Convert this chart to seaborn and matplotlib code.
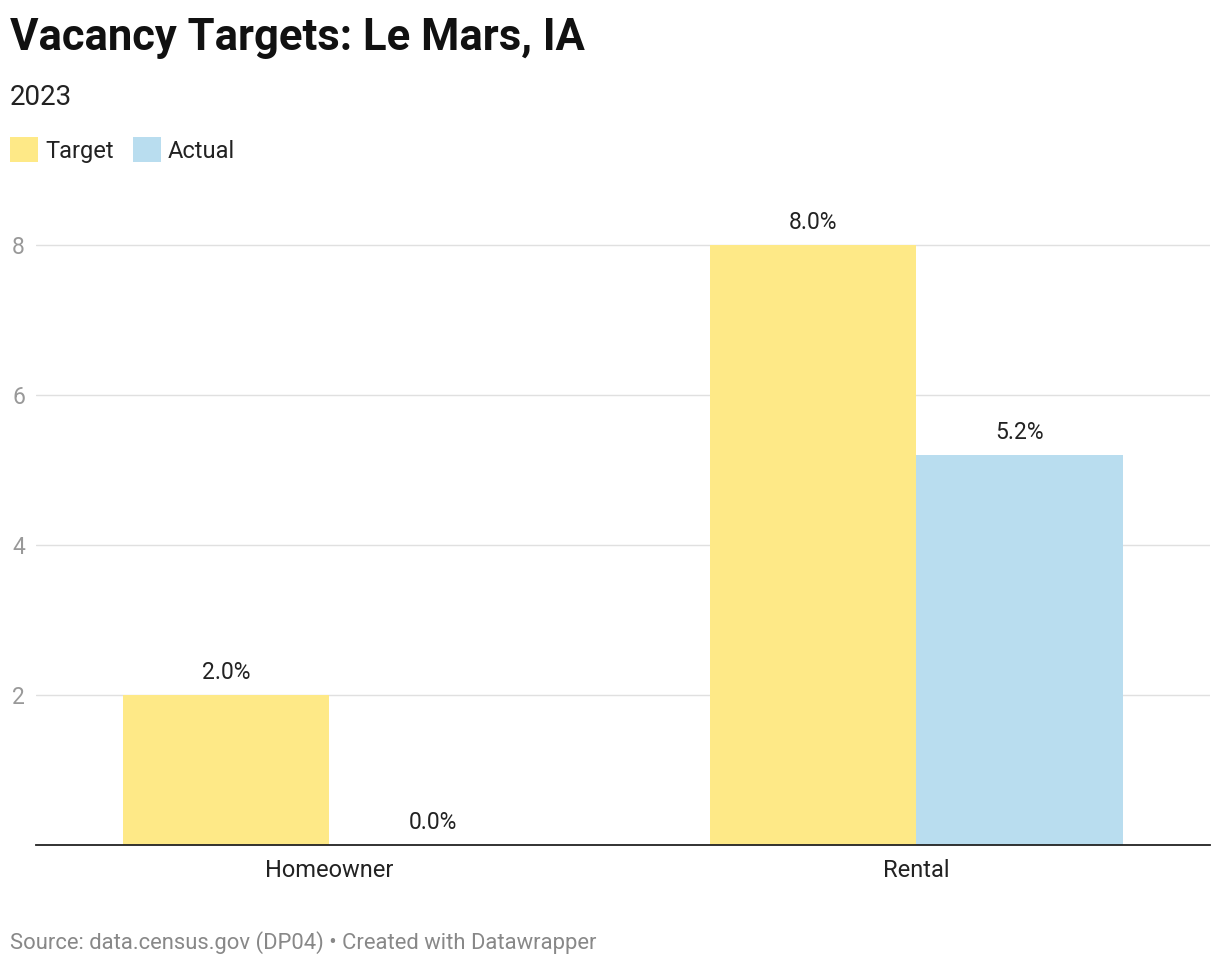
import matplotlib
matplotlib.use("Agg")
import matplotlib.pyplot as plt
import seaborn as sns
import pandas as pd

categories = ["Homeowner", "Rental"]
series = ["Target", "Actual"]
target_values = [2.0, 8.0]
actual_values = [0.0, 5.2]
y_ticks = [2, 4, 6, 8]

colors = {"Target": "#FEE987", "Actual": "#B9DDEF"}

df = pd.DataFrame({
    "category": categories * 2,
    "series": ["Target"] * len(categories) + ["Actual"] * len(categories),
    "value": target_values + actual_values,
})

sns.set_theme(style="white")
plt.rcParams["font.family"] = ["Roboto", "DejaVu Sans"]

fig = plt.figure(figsize=(12.2, 9.68), dpi=100)
ax = fig.add_axes([0.0295, 0.1271, 0.9623, 0.658])

sns.barplot(data=df, x="category", y="value", hue="series", hue_order=series,
            palette=colors, width=0.703, saturation=1, linewidth=0, ax=ax, legend=True)

for c in ax.containers:
    ax.bar_label(c, fmt="%.1f%%", padding=8, fontsize=16.5, color="#222222")

ax.set_xlim(-0.5, 1.5)
ax.set_ylim(0, 8.5)
ax.set_yticks(y_ticks)
ax.set_yticklabels([str(t) for t in y_ticks])
ax.grid(axis="y", color="#e0e0e0", linewidth=1)
ax.set_axisbelow(True)
for s in ["top", "right", "left"]:
    ax.spines[s].set_visible(False)
ax.spines["bottom"].set_color("#222222")
ax.spines["bottom"].set_linewidth(1.3)
ax.tick_params(axis="y", length=0, labelsize=16.5, labelcolor="#999999", pad=8)
ax.tick_params(axis="x", length=0, labelsize=17, labelcolor="#222222", pad=10)
ax.set_xlabel("")
ax.set_ylabel("")

handles, labels = ax.get_legend_handles_labels()
ax.get_legend().remove()
fig.legend(handles, labels, loc="upper left", bbox_to_anchor=(0.008, 0.858),
           ncol=2, frameon=False, fontsize=17, handlelength=1.2, handleheight=1.2,
           handletextpad=0.3, columnspacing=0.8, borderaxespad=0, borderpad=0,
           labelcolor="#222222")

fig.text(0.008, 0.961, "Vacancy Targets: Le Mars, IA", fontsize=31.4, fontweight="bold",
         color="#111111", va="center", ha="left")
fig.text(0.008, 0.899, "2023", fontsize=20, color="#222222", va="center", ha="left")
fig.text(0.008, 0.026, "Source: data.census.gov (DP04) \u2022 Created with Datawrapper",
         fontsize=15.8, color="#888888", va="center", ha="left")

fig.savefig("out.png", dpi=100, facecolor="white")
